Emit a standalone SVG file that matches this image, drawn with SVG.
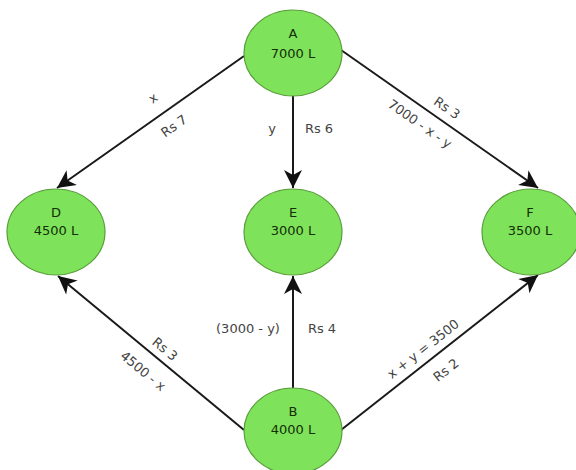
<svg xmlns="http://www.w3.org/2000/svg" width="576" height="470" viewBox="0 0 576 470">
<defs>
<style>
.node{fill:#7ee35a;stroke:#5a9e3c;stroke-width:1.2}
.nt{font-family:"DejaVu Sans",sans-serif;font-size:13px;fill:#142e08;text-anchor:middle}
.lb{font-family:"DejaVu Sans",sans-serif;font-size:13px;fill:#444;text-anchor:middle}
.edge{stroke:#1a1a1a;stroke-width:2;fill:none;marker-end:url(#arr)}
</style>
<marker id="arr" markerUnits="userSpaceOnUse" viewBox="-19 -10 21 20" refX="0" refY="0" markerWidth="21" markerHeight="20" orient="auto">
<path d="M0,0 L-18,-9 L-13,0 L-18,9 Z" fill="#111"/>
</marker>
</defs>
<rect width="576" height="470" fill="#fff"/>
<g id="connectors">
<line class="edge" x1="244" y1="56" x2="57" y2="188"/>
<line class="edge" x1="293" y1="96" x2="293" y2="188"/>
<line class="edge" x1="341" y1="50" x2="538" y2="188"/>
<line class="edge" x1="244" y1="430" x2="58" y2="276"/>
<line class="edge" x1="293" y1="388" x2="293" y2="276"/>
<line class="edge" x1="341" y1="430" x2="538" y2="275"/>
<text class="lb" transform="translate(153,98) rotate(-35)" y="4.5">x</text>
<text class="lb" transform="translate(174,126) rotate(-35)" y="4.5">Rs 7</text>
<text class="lb" x="272" y="132.5">y</text>
<text class="lb" x="319" y="132.5">Rs 6</text>
<text class="lb" transform="translate(447,108) rotate(35)" y="4.5">Rs 3</text>
<text class="lb" transform="translate(420,124) rotate(35)" y="4.5">7000 - x - y</text>
<text class="lb" transform="translate(165,349) rotate(39.6)" y="4.5">Rs 3</text>
<text class="lb" transform="translate(143,371) rotate(39.6)" y="4.5">4500 - x</text>
<text class="lb" x="248" y="332.5">(3000 - y)</text>
<text class="lb" x="322" y="333">Rs 4</text>
<text class="lb" transform="translate(423,349) rotate(-38.2)" y="4.5">x + y = 3500</text>
<text class="lb" transform="translate(446,370) rotate(-38.2)" y="4.5">Rs 2</text>
</g>
<g id="A"><ellipse class="node" cx="293" cy="53" rx="49" ry="43"/><text class="nt" x="293" y="38">A</text><text class="nt" x="293" y="57.5">7000 L</text></g>
<g id="D"><ellipse class="node" cx="56" cy="232" rx="49" ry="43"/><text class="nt" x="56" y="217">D</text><text class="nt" x="56" y="235">4500 L</text></g>
<g id="E"><ellipse class="node" cx="293" cy="232" rx="49" ry="43"/><text class="nt" x="293" y="217">E</text><text class="nt" x="293" y="235">3000 L</text></g>
<g id="F"><ellipse class="node" cx="531" cy="232" rx="49" ry="43"/><text class="nt" x="530" y="217">F</text><text class="nt" x="530" y="235">3500 L</text></g>
<g id="B"><ellipse class="node" cx="293" cy="431" rx="49" ry="43"/><text class="nt" x="293" y="416">B</text><text class="nt" x="293" y="434">4000 L</text></g>
</svg>
